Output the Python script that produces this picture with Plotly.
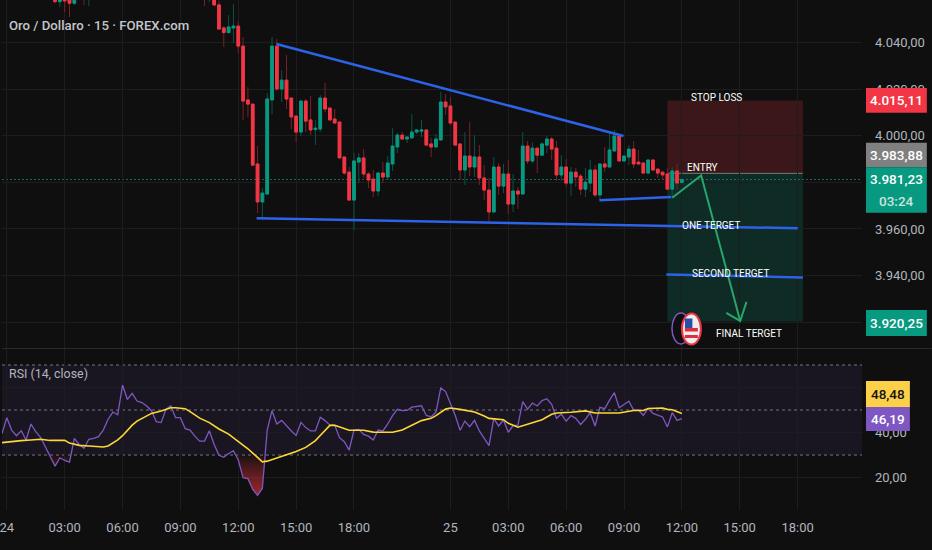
import numpy as np
import plotly.graph_objects as go

# ---------- data ----------
bar_index = [11,12,13,14,15,16,17,18] + list(range(42,142))
open_ = [4062,4057.6,4062,4062,4056.9,4065,4064,4061,
 4063,4060,4062,4056.2,4046.3,4044.3,4046.3,4047.1,4038.5,4015.4,4013.6,3987.9,3971.6,3975,4015.4,4038.5,4020.1,4023.9,4016.2,4008.5,4001.6,4014.9,4006.8,
 4002.7,4002.9,4016.2,4011.9,4007.2,4005.9,3990.9,3984.4,3972.4,3988.7,3990.5,3983.6,3981.4,3976.3,3984,3982.3,3987.9,3995.2,4000.3,3998.6,3999.1,4001.6,
 4002,4002.5,3996.5,3995.2,3998.2,4014.5,4012.8,4005.9,3996.5,3985.3,3991.3,3986.6,3990.9,3981.9,3976.7,3967.3,3986.6,3978.4,3983.6,3970.7,3976.3,3975,
 3995.6,3989.2,3994.7,3991.7,3996,3998.6,3994.7,3983.2,3986.6,3979.7,3984.4,3982.7,3977.1,3979.7,3985.3,3974.6,3987.9,3986.6,3993.5,3999.9,3989.2,3990.9,
 3994.3,3988.7,3988.3,3984,3989.6,3985.7,3984.4,3983.6,3977.1,3984.9,3979.9]
high_ = [4063,4063,4064,4063,4062,4066,4066,4066,
 4064,4064,4064,4058,4047.1,4051.9,4056.6,4048.9,4042.4,4020.9,4013.6,3995.6,3977.6,4018.4,4042.4,4041.5,4028.2,4034.7,4016.2,4008.5,4015.4,4015.8,4017.1,
 4006.8,4017.5,4022.7,4012.4,4011.5,4006.3,3990.9,3986.6,3992.6,3992.6,3994.3,3984.4,3985.3,3984.4,3988.7,3991.3,4003.3,4001.2,4001.6,3999.5,4009.3,4002.5,
 4006.8,4002.5,3999.1,4000.8,4018.8,4017.9,4016.6,4005.9,3996.5,4001.6,4005.9,4000.3,3996,3987.4,3981.9,3990.9,3988.3,3987.9,3989.6,3983.6,3978,4001.6,
 3997.8,3997.3,3994.7,3997.3,3999.9,3999.5,3997.8,3991.7,3990,3986.6,3986.2,3983.6,3986.2,3989.6,3987.4,3987.9,3995.2,4001.2,4002.5,4000.3,3991.3,3996,
 3997.8,3993.9,3988.7,3989.6,3989.6,3985.7,3984.4,3986.2,3986.6,3987.9,3981.9]
low_ = [4056.9,4055.3,4053.1,4051,4056.2,4060,4056.2,4055.7,
 4055.7,4057.4,4055.7,4045.8,4038.1,4044.1,4039.8,4035.5,4006.8,4008.1,3987.4,3966.8,3964.7,3974.6,4009.3,4019.2,4014.5,4011.5,4002.9,3997.3,3999.9,4001.6,4000.3,
 3996,4001.6,4010.2,4006.8,4005.1,3990.5,3983.2,3972.4,3959.5,3979.7,3981.9,3977.6,3973.7,3974.1,3979.7,3981,3984.9,3992.6,3998.4,3996.9,3999.1,4000.8,
 3999.5,3996,3990.9,3995.2,3998.2,4008.9,4004.6,3996,3981,3978.9,3982.7,3982.3,3978.9,3972.4,3963,3967.3,3974.6,3975.4,3966.4,3967.3,3968.6,3975,
 3987.9,3988.3,3984,3991.7,3992.6,3989.6,3980.6,3980.6,3978,3974.1,3978,3974.6,3973.7,3975.9,3973.7,3972.4,3984.4,3986.6,3993.5,3989.2,3989.2,3987.4,
 3986.2,3987.9,3984,3983.6,3985.3,3981.9,3981,3977.1,3973.3,3976.7,3979.7]
close_ = [4057.6,4062,4057.9,4056.9,4061,4063,4061,4064,
 4060,4063,4056.2,4045.8,4044.3,4046.7,4047.1,4038.5,4014.9,4013.6,3987.4,3971.6,3975.4,4015.8,4038.5,4020.1,4023.9,4015.8,4008.1,4001.6,4014.9,4006.3,4002.5,
 4003.3,4016.2,4011.5,4006.8,4005.5,3990.5,3984,3972.4,3989.2,3990.5,3983.6,3981,3976.3,3984,3982.3,3988.3,3995.6,4000.3,3998.6,3999.5,4001.6,4002.5,
 4002.5,3996,3995.2,3998.6,4014.5,4012.4,4005.5,3996,3985.3,3991.3,3986.6,3990.9,3981.9,3976.7,3967.3,3986.6,3978.4,3983.6,3970.7,3976.3,3975,3995.6,
 3989.2,3994.7,3991.7,3996.5,3998.6,3994.3,3983.2,3986.6,3979.7,3984.4,3982.3,3977.1,3980.1,3985.3,3974.6,3987.9,3986.6,3993.9,3999.9,3989.2,3991.3,3994.3,
 3987.9,3987.9,3984,3989.6,3985.3,3984,3983.2,3977.1,3984.9,3979.7,3981.23]

rsi_values = [39.6,46.6,41.1,38.6,40.8,36.7,43.8,40.4,37.9,33.7,30,25.1,28.8,27.6,26.9,37.4,34.7,33,37,37.4,38.2,41.1,45.9,49.1,47.9,61.1,54.7,57.4,54,53.3,
 51.8,49.7,44.8,44.4,50.3,51.9,46.6,46.6,41.7,41.1,38.4,36.2,36.2,40.8,34.7,29.9,29,30.7,31.9,27.8,19.9,19.5,14.7,12.1,15.3,41.1,49.7,43.8,45.4,42.9,
 40.7,38.7,44.5,42.2,40.7,40.7,46.8,45.3,43.3,43.3,37.7,35.9,32.2,41.1,41.4,39.2,38.4,36.7,41.1,40.7,43.8,47.5,50.3,49.7,49.8,51.3,51.6,51.9,47.6,47,
 49,59.8,58.2,53,47.6,41,45.1,42.6,45.4,40.7,37.4,34.2,46.3,42.9,45.6,40.1,43.1,43.3,53.7,50.4,53.1,51.8,54.2,55,52.5,46.3,48.2,45,47.5,46.3,
 43.6,45.9,48.8,42.9,51.2,50.6,54.4,57.7,51,52.4,53.9,50,50,47.6,50.7,48.5,47.8,46.9,42.5,48.8,45.4,46.19]
ma_index = [0,2,4,6,8,10,12,13,14,16,18,20,21,22,24,25,26,27,28,29,30,31,33,35,36,38,39,41,43,45,47,49,51,52,53,54,55,57,59,61,63,65,66,67,68,69,71,72,
 75,77,79,81,83,85,87,89,90,92,93,95,98,100,101,104,105,107,109,112,114,115,118,121,123,128,131,133,134,137,138,139,141]
ma_values = [35.5,36.1,36.4,36.7,37,36.5,36.4,36.5,35.3,34.3,34,33.6,33.6,34,36.7,38.6,41.1,43.3,45.1,46.3,47.3,48.5,49.6,51,51,50.6,49.3,46.4,44.4,41.6,39.3,36.2,32.8,30.9,29,27,27.3,28.7,30.1,31.6,33.4,36.4,38.7,41.1,43.2,43.2,41.9,41,
 41,40.2,40.1,40.1,41.1,43.2,45.3,46.3,47.5,50.4,50.9,50.3,49.1,47.3,46.3,45.7,44.1,42.4,43.8,45.7,48.1,48.7,49,49.6,48.7,48.7,49.8,49.8,50.7,50.9,50.3,50.1,48.48]

time_ticks = [1,13,25,37,49,61,73,93,105,117,129,141,153,165]
time_labels = ["24","03:00","06:00","09:00","12:00","15:00","18:00","25","03:00","06:00","09:00","12:00","15:00","18:00"]
price_ticks = [3920,3940,3960,3980,4000,4020,4040]
price_labels = ["","3.940,00","3.960,00","","4.000,00","4.020,00","4.040,00"]
rsi_ticks = [20,40,60]
rsi_labels = ["20,00","40,00","60,00"]

stop_price, entry_price, target_price, last_price = 4015.11, 3983.88, 3920.25, 3981.23
position_span = [138, 166.1]
upper_trend = ([56.9,128.9],[4039.4,3999.9])
lower_trend = ([52.8,165.05],[3964.6,3960.3])
short_trend = ([123.9,138.8],[3972.3,3973.7])
second_line = ([137.8,166.1],[3940.5,3939.2])
arrow_path = ([139,145,153.1],[3973.4,3983,3920.5])
arrow_head = ([150.2,153.1,154.4],[3924,3920.5,3928.7])

# ---------- styling ----------
W, H, PW, PH = 932, 550, 862, 510
BG = "#0f0f0f"; GRID = "#1d1d1d"; AXT = "#b2b5be"
UP = "#089981"; DN = "#f23645"; BLUE = "#2c63e8"; ARW = "#27a56b"
FONT = "Roboto, sans-serif"
px = lambda v: v / PW
py = lambda v: 1 - v / PH

o, h, l, c = map(np.array, (open_, high_, low_, close_))
fig = go.Figure()

# oversold gradient
rsi = np.array(rsi_values); xs = np.arange(len(rsi))
polyx, polyy = [], []
i = 0
while i < len(rsi):
    if rsi[i] < 30:
        j = i
        while j + 1 < len(rsi) and rsi[j + 1] < 30:
            j += 1
        a = i - 1 + (rsi[i - 1] - 30) / (rsi[i - 1] - rsi[i])
        b = j + (30 - rsi[j]) / (rsi[j + 1] - rsi[j])
        polyx += [a] + list(xs[i:j + 1]) + [b, a, None]
        polyy += [30] + list(rsi[i:j + 1]) + [30, 30, None]
        i = j + 1
    else:
        i += 1
fig.add_trace(go.Scatter(x=polyx, y=polyy, xaxis="x2", yaxis="y2", mode="none", fill="toself",
    fillgradient=dict(type="vertical", start=30, stop=12,
                      colorscale=[[0, "rgba(242,54,69,0.05)"], [1, "rgba(200,45,55,0.75)"]]),
    showlegend=False, hoverinfo="skip"))
fig.add_trace(go.Scatter(x=xs, y=rsi, xaxis="x2", yaxis="y2", mode="lines",
    line=dict(color="#7e57c2", width=1.3), showlegend=False))
fig.add_trace(go.Scatter(x=ma_index, y=ma_values, xaxis="x2", yaxis="y2", mode="lines",
    line=dict(color="#fdd835", width=1.6), showlegend=False))

# candle wicks, then bodies
fig.add_trace(go.Candlestick(x=bar_index, open=o, high=h, low=l, close=c, whiskerwidth=0,
    increasing=dict(line=dict(color="#0a5347", width=1), fillcolor="#0a5347"),
    decreasing=dict(line=dict(color="#7a2028", width=1), fillcolor="#7a2028"), showlegend=False))
fig.add_trace(go.Candlestick(x=bar_index, open=o, high=np.maximum(o, c), low=np.minimum(o, c), close=c, whiskerwidth=0,
    increasing=dict(line=dict(color=UP, width=1), fillcolor=UP),
    decreasing=dict(line=dict(color=DN, width=1), fillcolor=DN), showlegend=False))

# drawings
for (xv, yv) in (upper_trend, lower_trend, short_trend, second_line):
    fig.add_trace(go.Scatter(x=xv, y=yv, mode="lines", line=dict(color=BLUE, width=2.5), showlegend=False))
for (xv, yv) in (arrow_path, arrow_head):
    fig.add_trace(go.Scatter(x=xv, y=yv, mode="lines", line=dict(color=ARW, width=2), showlegend=False))

shapes = [
    dict(type="rect", xref="x", yref="y", x0=position_span[0], x1=position_span[1], y0=entry_price, y1=stop_price,
         fillcolor="rgba(242,54,69,0.2)", line_width=0, layer="below"),
    dict(type="rect", xref="x", yref="y", x0=position_span[0], x1=position_span[1], y0=target_price, y1=entry_price,
         fillcolor="rgba(8,153,129,0.2)", line_width=0, layer="below"),
    dict(type="line", xref="x", yref="y", x0=position_span[0], x1=position_span[1], y0=entry_price, y1=entry_price,
         line=dict(color="#6f7f78", width=1), layer="below"),
    dict(type="line", xref="paper", yref="y", x0=0, x1=1, y0=last_price, y1=last_price,
         line=dict(color="#0d6e5e", width=1, dash="2px,2px"), layer="below"),
    # RSI band and guide levels
    dict(type="rect", xref="paper", yref="y2", x0=0, x1=1, y0=30, y1=70, fillcolor="rgba(126,87,194,0.1)", line_width=0, layer="below"),
]
for lev in (30, 50, 70):
    shapes.append(dict(type="line", xref="paper", yref="y2", x0=0, x1=1, y0=lev, y1=lev,
                       line=dict(color="#75757a", width=1, dash="3px,3px"), layer="below"))
# pane separator
shapes.append(dict(type="line", xref="paper", yref="paper", x0=0, x1=W / PW, y0=py(348.5), y1=py(348.5),
                   line=dict(color="#2a2a2e", width=1)))


def tag(x0, x1, y0, y1, color, lines, txtcolor="#ffffff"):
    shapes.append(dict(type="rect", xref="paper", yref="paper", x0=px(x0), x1=px(x1), y0=py(y0), y1=py(y1),
                       fillcolor=color, line_width=0, layer="above"))
    n = len(lines)
    for k, t in enumerate(lines):
        yc = y0 + (y1 - y0) * (k + 0.5) / n
        anns.append(dict(xref="paper", yref="paper", x=px((x0 + x1) / 2), y=py(yc), text=t, showarrow=False,
                         font=dict(family=FONT, size=13.5, weight=500, color=txtcolor if t != "03:24" else "#c8e6df"),
                         xanchor="center", yanchor="middle"))


anns = []
tag(866, 927, 88, 112.7, DN, ["4.015,11"])
tag(866, 927, 142.7, 167.3, "#808080", ["3.983,88"])
tag(866, 927, 167.3, 212.7, UP, ["3.981,23", "03:24"])
tag(866, 927, 310, 336, UP, ["3.920,25"])
tag(866, 910, 381, 407, "#fdd04a", ["48,48"], "#131313")
tag(866, 910, 407, 431, "#7e57c2", ["46,19"])


def label(x, y, t, size=10, color="#ffffff", anchor="center", weight=400):
    anns.append(dict(xref="paper", yref="paper", x=px(x), y=py(y), text=t, showarrow=False,
                     font=dict(family=FONT, size=size, color=color, weight=weight), xanchor=anchor, yanchor="middle"))


label(716.5, 97, "STOP LOSS")
label(702, 168, "ENTRY")
label(711, 225, "ONE TERGET")
label(729.7, 273, "SECOND TERGET")
label(749, 333, "FINAL TERGET")
label(5, 25, "Oro / Dollaro · 15 · FOREX.com", 13.2, "#c4c6cc", "left", 500)
label(5, 373, "RSI (14, close)", 12.4, "#b2b5be", "left")

# small flag badge
def ell(cx, cy, rx, ry, line, fill="rgba(0,0,0,0)", w=2):
    shapes.append(dict(type="circle", xref="paper", yref="paper", x0=px(cx - rx), x1=px(cx + rx), y0=py(cy - ry), y1=py(cy + ry),
                       line=dict(color=line, width=w), fillcolor=fill, layer="above"))
def rct(x0, x1, y0, y1, fill):
    shapes.append(dict(type="rect", xref="paper", yref="paper", x0=px(x0), x1=px(x1), y0=py(y0), y1=py(y1),
                       fillcolor=fill, line_width=0, layer="above"))
ell(680.5, 328.5, 9, 15.5, "#7e57c2", BG, 1.5)
ell(691, 329, 9.5, 15.5, "#f23645", "#eeeeee", 2)
rct(684.5, 697.5, 328, 331.5, "#d9303f")
rct(684.5, 697.5, 335, 338, "#d9303f")
rct(684.5, 692, 318.5, 328, "#2b4fa8")

fig.update_layout(
    width=W, height=H, paper_bgcolor=BG, plot_bgcolor=BG, showlegend=False,
    margin=dict(l=0, r=W - PW, t=0, b=H - PH), boxgap=0.2,
    xaxis=dict(domain=[0, 1], range=[0, PW / 4.833], anchor="y", tickvals=time_ticks, ticktext=time_labels,
               showticklabels=False, showgrid=True, gridcolor=GRID, gridwidth=1, zeroline=False, ticks="",
               rangeslider=dict(visible=False), showline=False),
    xaxis2=dict(domain=[0, 1], range=[0, PW / 4.833], anchor="y2", tickvals=time_ticks, ticktext=time_labels,
                showgrid=True, gridcolor=GRID, gridwidth=1, zeroline=False, ticks="", ticklen=0,
                tickfont=dict(family=FONT, size=13, color=AXT), showline=False, matches="x",
                ticklabelstandoff=8, ticklabeloverflow="allow"),
    yaxis=dict(domain=[1 - 348 / PH, 1], range=[3908.9, 4058.3], side="right", anchor="x", tickvals=price_ticks,
               ticktext=price_labels, showgrid=True, gridcolor=GRID, zeroline=False, ticks="",
               tickfont=dict(family=FONT, size=13, color=AXT), showline=False, ticklabelstandoff=12),
    yaxis2=dict(domain=[0, 1 - 349 / PH], range=[5.6, 77.1], side="right", anchor="x2", tickvals=rsi_ticks,
                ticktext=rsi_labels, showgrid=True, gridcolor=GRID, zeroline=False, ticks="",
                tickfont=dict(family=FONT, size=13, color=AXT), showline=False, ticklabelstandoff=12),
    shapes=shapes, annotations=anns,
)
fig.write_html("out.html", config=dict(displayModeBar=False),
               post_script="document.body.style.margin='0';document.documentElement.style.background='#0f0f0f';")
